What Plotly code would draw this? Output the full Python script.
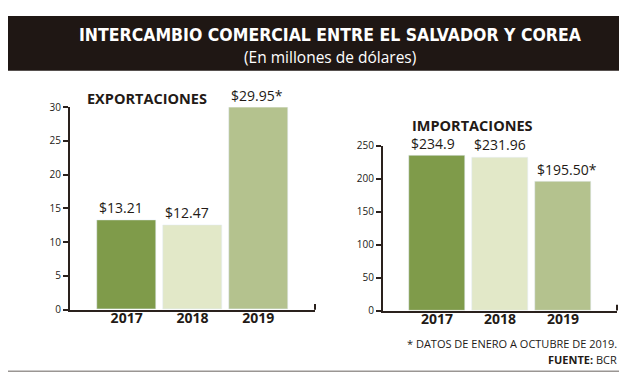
import plotly.graph_objects as go

years = ["2017", "2018", "2019"]
exports = [13.21, 12.47, 29.95]
imports = [234.9, 231.96, 195.50]
export_labels = ["$13.21", "$12.47", "$29.95*"]
import_labels = ["$234.9", "$231.96", "$195.50*"]
bar_colors = ["#7f9b4a", "#e2e8c8", "#b4c28e"]

W, H = 627, 372
def px(x):
    return x / W
def py(y):
    return 1 - y / H

AX = "#2a211d"
BW = 0.89
FONT = "Open Sans"

fig = go.Figure()
fig.add_trace(go.Bar(x=years, y=exports, marker_color=bar_colors, width=BW,
                     xaxis="x", yaxis="y", showlegend=False, hoverinfo="skip"))
fig.add_trace(go.Bar(x=years, y=imports, marker_color=bar_colors, width=BW,
                     xaxis="x2", yaxis="y2", showlegend=False, hoverinfo="skip"))

annotations = []
for i, (v, t) in enumerate(zip(exports, export_labels)):
    annotations.append(dict(x=i - BW / 2, y=v, xref="x", yref="y", text=t, showarrow=False,
                            xanchor="left", yanchor="bottom", yshift=1,
                            font=dict(family=FONT, size=14, color="#231a16")))
for i, (v, t) in enumerate(zip(imports, import_labels)):
    annotations.append(dict(x=i - BW / 2, y=v, xref="x2", yref="y2", text=t, showarrow=False,
                            xanchor="left", yanchor="bottom", yshift=1,
                            font=dict(family=FONT, size=14, color="#231a16")))

annotations += [
    dict(x=px(322), y=py(20), xref="paper", yref="paper", text="INTERCAMBIO COMERCIAL ENTRE EL SALVADOR Y COREA",
         showarrow=False, xanchor="center", yanchor="middle",
         font=dict(family="DejaVu Sans Condensed", size=17.5, color="white", weight="bold")),
    dict(x=px(322), y=py(43), xref="paper", yref="paper", text="(En millones de dólares)",
         showarrow=False, xanchor="center", yanchor="middle",
         font=dict(family=FONT, size=15.5, color="white")),
    dict(x=px(77), y=py(86), xref="paper", yref="paper", text="EXPORTACIONES",
         showarrow=False, xanchor="left", yanchor="middle",
         font=dict(family=FONT, size=14.5, color="#231a16", weight="bold")),
    dict(x=px(402), y=py(114), xref="paper", yref="paper", text="IMPORTACIONES",
         showarrow=False, xanchor="left", yanchor="middle",
         font=dict(family=FONT, size=14.5, color="#231a16", weight="bold")),
    dict(x=px(611), y=py(341), xref="paper", yref="paper", text="* DATOS DE ENERO A OCTUBRE DE 2019.",
         showarrow=False, xanchor="right", yanchor="middle",
         font=dict(family=FONT, size=11, color="#231a16")),
    dict(x=px(611), y=py(358), xref="paper", yref="paper", text="<b>FUENTE:</b> BCR",
         showarrow=False, xanchor="right", yanchor="middle",
         font=dict(family=FONT, size=11, color="#231a16")),
]

shapes = [
    dict(type="rect", xref="paper", yref="paper", x0=0, x1=1, y0=py(57), y1=1,
         fillcolor="#1f1714", line_width=0, layer="below"),
    dict(type="line", xref="paper", yref="paper", x0=0, x1=1, y0=py(370.5), y1=py(370.5),
         line=dict(color="#9a9693", width=2)),
    dict(type="line", xref="paper", yref="paper", x0=px(307), x1=px(307), y0=py(306), y1=py(300),
         line=dict(color=AX, width=2)),
    dict(type="line", xref="paper", yref="paper", x0=px(609), x1=px(609), y0=py(307), y1=py(301),
         line=dict(color=AX, width=2)),
]

xcommon = dict(type="category", range=[-0.86, 2.86], showline=True, linecolor=AX, linewidth=2,
               ticks="", ticklen=0, ticklabelstandoff=-5, showgrid=False, zeroline=False, fixedrange=True,
               tickfont=dict(family=FONT, size=14, color="#231a16", weight="bold"))
ycommon = dict(showline=True, linecolor=AX, linewidth=2, ticks="outside", ticklen=5, tickwidth=1.5,
               tickcolor=AX, showgrid=False, zeroline=False, fixedrange=True,
               tickfont=dict(family=FONT, size=10, color="#231a16"))

fig.update_layout(
    width=W, height=H, margin=dict(l=0, r=0, t=0, b=0),
    paper_bgcolor="white", plot_bgcolor="rgba(0,0,0,0)",
    bargap=0,
    xaxis=dict(domain=[px(62), px(307)], anchor="y", **xcommon),
    yaxis=dict(domain=[py(306), py(95)], anchor="x", range=[0, 30], dtick=5, **ycommon),
    xaxis2=dict(domain=[px(375), px(609)], anchor="y2", **xcommon),
    yaxis2=dict(domain=[py(307), py(135)], anchor="x2", range=[0, 250], dtick=50, **ycommon),
    annotations=annotations, shapes=shapes,
)

fig.write_html("out.html")
